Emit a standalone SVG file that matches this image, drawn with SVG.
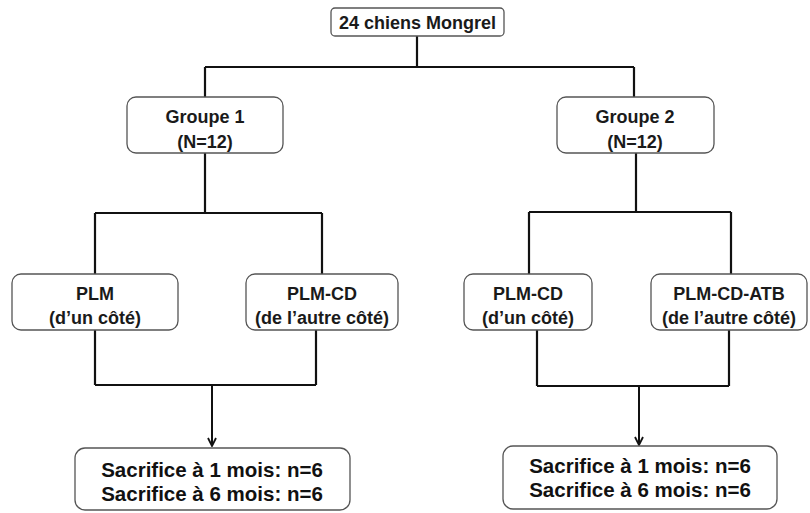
<svg xmlns="http://www.w3.org/2000/svg" width="810" height="513" viewBox="0 0 810 513">
<defs>
<style>
.box{fill:#fff;stroke:#555;stroke-width:1.3}
.t{font-family:"Liberation Sans",Arial,sans-serif;font-weight:bold;font-size:18px;fill:#1a1a1a;text-anchor:middle}
.top{font-size:18px}
.b{font-family:"Liberation Sans",Arial,sans-serif;font-weight:bold;font-size:20.5px;fill:#111;text-anchor:middle}
.c{fill:none;stroke:#111;stroke-width:2.2}
</style>
<marker id="ah" viewBox="0 0 10 10" refX="9" refY="5" markerWidth="10" markerHeight="10" orient="auto" markerUnits="userSpaceOnUse">
<path d="M1,1 L9,5 L1,9" fill="none" stroke="#111" stroke-width="1.8"/>
</marker>
</defs>
<rect width="810" height="513" fill="#fff"/>
<g id="connectors">
<path class="c" d="M417,36 V67 M205,67 H634 M205,67 V97 M634,67 V97"/>
<path class="c" d="M205,153 V213 M95,213 H322 M95,213 V274 M322,213 V274"/>
<path class="c" d="M636,153 V212" stroke-width="4"/>
<path class="c" d="M529,212 H731 M529,212 V274 M731,212 V274"/>
<path class="c" d="M95,330 V385 M316,330 V385 M95,385 H316"/>
<path class="c" d="M537,330 V386 M729,330 V386 M537,386 H729"/>
<line x1="212" y1="385" x2="212" y2="446" stroke="#111" stroke-width="2" marker-end="url(#ah)"/>
<line x1="639" y1="386" x2="639" y2="445" stroke="#111" stroke-width="2" marker-end="url(#ah)"/>
</g>
<g id="root">
<rect class="box" x="331" y="8" width="173" height="28" rx="4"/>
<text class="t top" x="417.5" y="29">24 chiens Mongrel</text>
</g>
<g id="groupe1">
<rect class="box" x="127" y="97" width="156" height="56" rx="9"/>
<text class="t" x="205" y="123">Groupe 1</text>
<text class="t" x="205" y="148">(N=12)</text>
</g>
<g id="groupe2">
<rect class="box" x="557" y="97" width="157" height="56" rx="9"/>
<text class="t" x="635" y="123">Groupe 2</text>
<text class="t" x="635" y="148">(N=12)</text>
</g>
<g id="plm1">
<rect class="box" x="12" y="274" width="166" height="56" rx="9"/>
<text class="t" x="95" y="300">PLM</text>
<text class="t" x="95" y="324">(d’un côté)</text>
</g>
<g id="plmcd1">
<rect class="box" x="246" y="274" width="152" height="56" rx="9"/>
<text class="t" x="322" y="300">PLM-CD</text>
<text class="t" x="322" y="324">(de l’autre côté)</text>
</g>
<g id="plmcd2">
<rect class="box" x="464" y="274" width="128" height="56" rx="9"/>
<text class="t" x="528" y="300">PLM-CD</text>
<text class="t" x="528" y="324">(d’un côté)</text>
</g>
<g id="plmcdatb">
<rect class="box" x="651" y="274" width="156" height="56" rx="9"/>
<text class="t" x="729" y="300">PLM-CD-ATB</text>
<text class="t" x="729" y="324">(de l’autre côté)</text>
</g>
<g id="sacrifice1">
<rect class="box" x="75" y="448" width="275" height="62" rx="10"/>
<text class="b" x="212" y="477">Sacrifice à 1 mois: n=6</text>
<text class="b" x="212" y="501">Sacrifice à 6 mois: n=6</text>
</g>
<g id="sacrifice2">
<rect class="box" x="503" y="446" width="274" height="63" rx="10"/>
<text class="b" x="640" y="473">Sacrifice à 1 mois: n=6</text>
<text class="b" x="640" y="497">Sacrifice à 6 mois: n=6</text>
</g>
</svg>
